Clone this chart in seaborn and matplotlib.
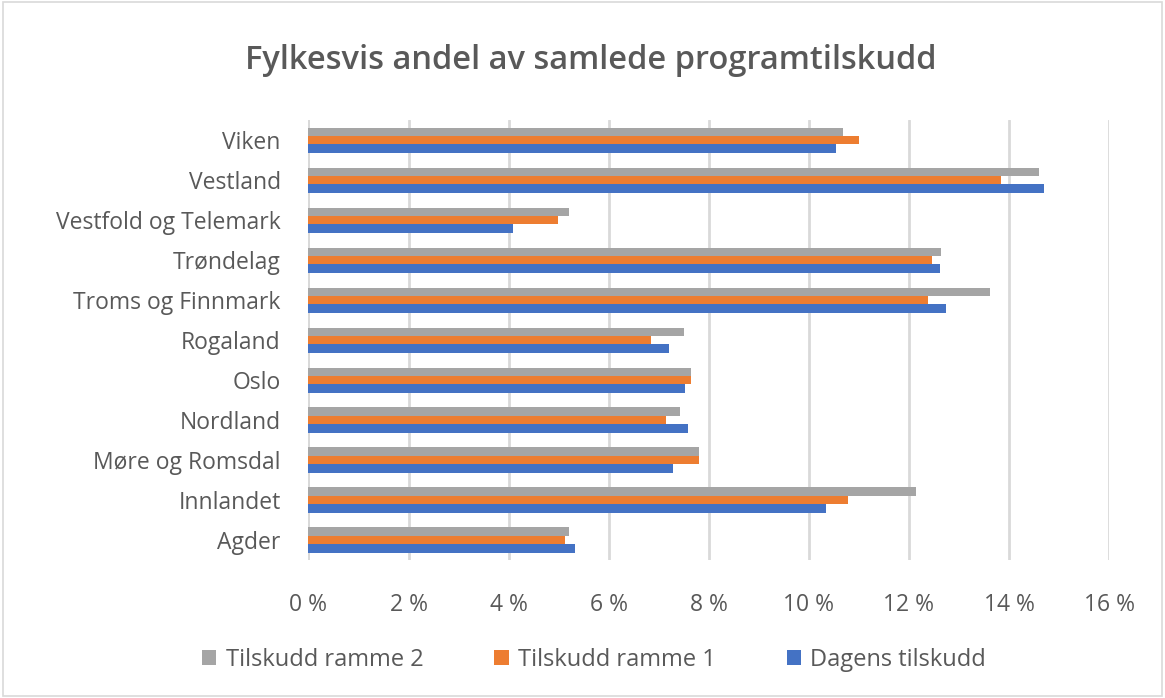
import matplotlib
matplotlib.use('Agg')
import matplotlib.pyplot as plt
import matplotlib.ticker as mticker
import seaborn as sns
import pandas as pd

# Data (percent)
fylker = ['Viken', 'Vestland', 'Vestfold og Telemark', 'Trøndelag', 'Troms og Finnmark',
          'Rogaland', 'Oslo', 'Nordland', 'Møre og Romsdal', 'Innlandet', 'Agder']
ramme2 = [10.69, 14.60, 5.20, 12.65, 13.62, 7.50, 7.64, 7.43, 7.80, 12.15, 5.20]
ramme1 = [11.00, 13.83, 4.98, 12.46, 12.38, 6.84, 7.65, 7.15, 7.80, 10.78, 5.13]
dagens = [10.54, 14.70, 4.08, 12.62, 12.74, 7.21, 7.53, 7.58, 7.28, 10.35, 5.32]
serier = ['Tilskudd ramme 2', 'Tilskudd ramme 1', 'Dagens tilskudd']
x_ticks = [0, 2, 4, 6, 8, 10, 12, 14, 16]

df = pd.DataFrame({
    'fylke': fylker * 3,
    'andel': ramme2 + ramme1 + dagens,
    'serie': [serier[0]] * 11 + [serier[1]] * 11 + [serier[2]] * 11,
})

sns.set_theme(style='white')
plt.rcParams['font.family'] = ['Open Sans', 'DejaVu Sans']
txt = '#595959'

fig = plt.figure(figsize=(11.65, 6.98), dpi=100)
ax = fig.add_axes([0.2648, 0.1977, 0.6872, 0.630])

palette = {serier[0]: '#A5A5A5', serier[1]: '#ED7D31', serier[2]: '#4472C4'}
sns.barplot(data=df, x='andel', y='fylke', hue='serie', hue_order=serier,
            order=fylker, palette=palette, width=0.63, saturation=1,
            linewidth=0, ax=ax, zorder=3, legend=True)

ax.set_xlim(0, 16)
ax.set_ylim(10.5, -0.5)
ax.set_xticks(x_ticks)
ax.xaxis.set_major_formatter(mticker.FuncFormatter(lambda v, p: f'{v:.0f} %'))
ax.grid(axis='x', color='#D9D9D9', linewidth=2, zorder=0)
ax.grid(axis='y', visible=False)
for s in ['top', 'right', 'bottom', 'left']:
    ax.spines[s].set_visible(False)
ax.axvline(0, color='#D9D9D9', linewidth=2, zorder=2)
ax.tick_params(axis='x', length=0, pad=24, labelsize=16.5, labelcolor=txt)
ax.tick_params(axis='y', length=0, pad=20, labelsize=16.5, labelcolor=txt)
ax.set_xlabel('')
ax.set_ylabel('')

fig.text(0.507, 0.914, 'Fylkesvis andel av samlede programtilskudd',
         ha='center', va='center', fontsize=23.5, fontweight='semibold', color=txt)

handles, labels = ax.get_legend_handles_labels()
ax.get_legend().remove()
fig.legend(handles, labels, loc='center', bbox_to_anchor=(0.51, 0.054), ncol=3,
           frameon=False, fontsize=17, labelcolor=txt, handlelength=0.6,
           handleheight=0.6, handletextpad=0.4, columnspacing=3.0)

# light border around the chart area
fig.patches.append(plt.Rectangle((0.003, 0.003), 0.994, 0.994, transform=fig.transFigure,
                                 fill=False, edgecolor='#D9D9D9', linewidth=1.2))

fig.savefig('out.png', dpi=100)
